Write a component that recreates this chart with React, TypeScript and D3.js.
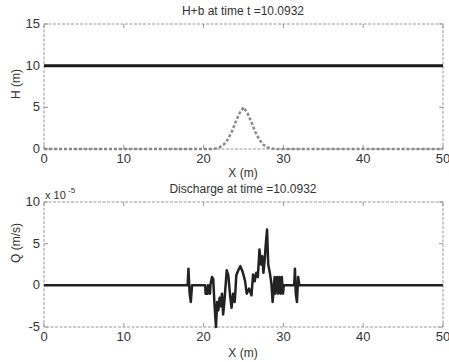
import React from 'react';
import * as d3 from 'd3';

const xTicks = [0, 10, 20, 30, 40, 50];
const hTicks = [0, 5, 10, 15];
const qTicks = [-5, 0, 5, 10];

// free surface H+b (m)
const surfX = [0, 50];
const surfY = [10, 10];

// bed b (m), bump around x = 25
const bedX = [0, 21, 21.5, 22, 22.5, 23, 23.5, 24, 24.5, 25, 25.5, 26, 26.5, 27, 27.5, 28, 28.5, 29, 50];
const bedY = [0, 0, 0.05, 0.2, 0.5, 1.1, 2.0, 3.2, 4.3, 5.0, 4.3, 3.2, 2.0, 1.1, 0.5, 0.2, 0.05, 0, 0];

// discharge Q (x 1e-5 m/s)
const qX = [0, 18.0, 18.1, 18.25, 18.4, 18.55, 20.2, 20.25, 20.5, 20.55, 20.8, 20.85, 21.05, 21.2, 21.35, 21.55, 21.7, 21.85, 22.0, 22.15, 22.3, 22.45, 22.6, 22.9, 23.1, 23.3, 23.5, 23.7, 23.9, 24.1, 24.35, 24.6, 24.9, 25.2, 25.4, 25.7, 26.0, 26.2, 26.4, 26.6, 26.8, 27.0, 27.2, 27.35, 27.5, 27.65, 27.8, 27.95, 28.1, 28.3, 28.5, 28.65, 28.9, 29.0, 29.2, 29.35, 29.5, 29.65, 29.8, 29.95, 30.05, 31.35, 31.45, 31.55, 31.7, 31.85, 32.0, 32.15, 50];
const qY = [0, 0, 2.0, -1.0, -2.0, 0, 0, -1.0, -1.0, 0, -1.0, 0, 1.0, 0.8, -2.0, -5.0, -2.0, -3.0, -1.5, -2.5, -1.0, -3.5, -2.0, 1.8, 1.2, -1.0, -2.7, -1.0, -2.0, 1.2, 1.8, 2.3, 1.6, 0.5, -1.0, -0.4, -1.2, 1.3, 0.5, 1.5, 1.0, 4.3, 2.5, 3.5, 1.5, 3.0, 5.0, 6.7, 2.5, 1.5, 0.2, -2.0, 1.0, -1.0, 1.0, -1.0, 1.0, -1.0, 1.0, -1.0, 0, 0, 2.0, -1.0, -2.0, 1.0, 0, 0, 0];

const left = 44;
const right = 443;
const font = '"Liberation Sans", Arial, sans-serif';

const toPts = (xs: number[], ys: number[]) => xs.map((x, i) => [x, ys[i]] as [number, number]);

const Panel: React.FC<{
  top: number;
  bottom: number;
  yDomain: [number, number];
  yTicks: number[];
  title: string;
  yLabel: string;
  yLabelY: number;
  children: (x: d3.ScaleLinear<number, number>, y: d3.ScaleLinear<number, number>) => React.ReactNode;
}> = ({ top, bottom, yDomain, yTicks, title, yLabel, yLabelY, children }) => {
  const x = d3.scaleLinear().domain([0, 50]).range([left, right]);
  const y = d3.scaleLinear().domain(yDomain).range([bottom, top]);
  const boxColor = '#999';
  return (
    <g>
      <rect x={left} y={top} width={right - left} height={bottom - top} fill="#fff" stroke={boxColor} strokeWidth={1} strokeDasharray="3,1.5" />
      {xTicks.map((t) => (
        <g key={'x' + t}>
          <line x1={x(t)} x2={x(t)} y1={bottom} y2={bottom - 4} stroke={boxColor} />
          <line x1={x(t)} x2={x(t)} y1={top} y2={top + 4} stroke={boxColor} />
          <text x={x(t)} y={bottom + 14} textAnchor="middle" fontSize={13} fill="#333">{t}</text>
        </g>
      ))}
      {yTicks.map((t) => (
        <g key={'y' + t}>
          <line x1={left} x2={left + 4} y1={y(t)} y2={y(t)} stroke={boxColor} />
          <line x1={right} x2={right - 4} y1={y(t)} y2={y(t)} stroke={boxColor} />
          <text x={left - 4} y={y(t) + 4} textAnchor="end" fontSize={13} fill="#333">{t}</text>
        </g>
      ))}
      {children(x, y)}
      <text x={243} y={top - 9} textAnchor="middle" fontSize={12} fill="#333">{title}</text>
      <text transform={`translate(20,${yLabelY}) rotate(-90)`} textAnchor="middle" fontSize={12} fill="#333">{yLabel}</text>
    </g>
  );
};

export default function App() {
  return (
    <svg width={449} height={362} style={{ position: 'absolute', left: 0, top: 0, background: '#fff' }} fontFamily={font}>
      <rect width={449} height={362} fill="#fff" />
      <text x={243} y={177} textAnchor="middle" fontSize={12} fill="#333">X (m)</text>
      <Panel top={24} bottom={149} yDomain={[0, 15]} yTicks={hTicks} title="H+b at time t =10.0932" yLabel="H (m)" yLabelY={84}>
        {(x, y) => {
          const line = d3.line<[number, number]>().x((d) => x(d[0])).y((d) => y(d[1]));
          return (
            <g>
              <path d={line(toPts(surfX, surfY)) || ''} fill="none" stroke="#1a1a1a" strokeWidth={3} />
              <path d={line(toPts(bedX, bedY)) || ''} fill="none" stroke="#8a8a8a" strokeWidth={2.5} strokeDasharray="3,2" />
            </g>
          );
        }}
      </Panel>
      <Panel top={202} bottom={327} yDomain={[-5, 10]} yTicks={qTicks} title="Discharge at time =10.0932" yLabel="Q (m/s)" yLabelY={243}>
        {(x, y) => {
          const line = d3.line<[number, number]>().x((d) => x(d[0])).y((d) => y(d[1]));
          return <path d={line(toPts(qX, qY)) || ''} fill="none" stroke="#222" strokeWidth={2.5} strokeLinejoin="round" />;
        }}
      </Panel>
      <text x={45} y={199} fontSize={11} fill="#333">x 10</text>
      <text x={68} y={193} fontSize={8} fill="#333">-5</text>
      <text x={243} y={357} textAnchor="middle" fontSize={12} fill="#333">X (m)</text>
    </svg>
  );
}
